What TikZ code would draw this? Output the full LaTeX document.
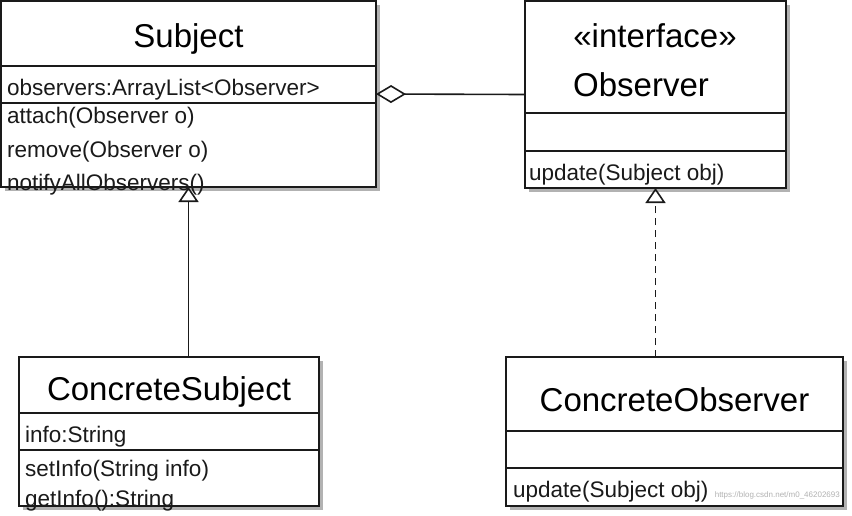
\documentclass[tikz,border=0pt]{standalone}
\usepackage{fontspec}
\setmainfont{Liberation Sans}
\usetikzlibrary{arrows.meta,shadows}
\definecolor{ink}{HTML}{1A1A1A}
\tikzset{
  classbox/.style={draw=ink, line width=1.6pt, fill=white, rectangle, inner sep=0pt, outer sep=0pt,
    drop shadow={shadow xshift=4pt, shadow yshift=-4pt, fill=black!30, opacity=1}},
  divider/.style={draw=ink, line width=1.6pt},
  titletext/.style={text=black, inner sep=0pt, font=\fontsize{33}{36}\selectfont},
  bodytext/.style={text=ink, inner sep=0pt, font=\fontsize{22.5}{25}\selectfont, anchor=base west},
  conn/.style={draw=ink, line width=1.6pt},
  inherit/.style={conn, -{Triangle[open, width=20pt, length=15pt]}},
  realize/.style={conn, dash pattern=on 7pt off 5pt, -{Triangle[open, width=20pt, length=15pt]}},
  aggr/.style={conn, {Diamond[open, width=18pt, length=30pt]}-},
}
\begin{document}
\begin{tikzpicture}[x=1pt, y=-1pt]
\useasboundingbox[fill=white] (0,0) rectangle (852,515);

% class boxes
\node[classbox, minimum width=375pt, minimum height=186pt] (sub) at (188.5,94) {};
\node[classbox, minimum width=261pt, minimum height=187pt] (obs) at (655.5,94.5) {};
\node[classbox, minimum width=300pt, minimum height=149pt] (csub) at (169,431.5) {};
\node[classbox, minimum width=337pt, minimum height=149pt] (cobs) at (674.5,431.5) {};

% dividers
\draw[divider] (sub.west |- 0,66) -- (sub.east |- 0,66);
\draw[divider] (sub.west |- 0,103) -- (sub.east |- 0,103);
\draw[divider] (obs.west |- 0,113) -- (obs.east |- 0,113);
\draw[divider] (obs.west |- 0,151) -- (obs.east |- 0,151);
\draw[divider] (csub.west |- 0,413) -- (csub.east |- 0,413);
\draw[divider] (csub.west |- 0,450) -- (csub.east |- 0,450);
\draw[divider] (cobs.west |- 0,431) -- (cobs.east |- 0,431);
\draw[divider] (cobs.west |- 0,468) -- (cobs.east |- 0,468);

% Subject
\node[titletext, anchor=base] (subT) at (188.5,47) {Subject};
\node[bodytext] (subF) at (7,95) {observers:ArrayList<Observer>};
\node[bodytext] (subM1) at (7,123) {attach(Observer o)};
\node[bodytext] (subM2) at (7,157) {remove(Observer o)};
\node[bodytext] (subM3) at (7,190) {notifyAllObservers()};

% Observer
\node[titletext, anchor=base] (obsS) at (655,47) {«interface»};
\node[titletext, anchor=base west] (obsT) at (573,96) {Observer};
\node[bodytext] (obsM) at (529,180) {update(Subject obj)};

% ConcreteSubject
\node[titletext, anchor=base] (csubT) at (169,400) {ConcreteSubject};
\node[bodytext] (csubF) at (25,442) {info:String};
\node[bodytext] (csubM1) at (25,476) {setInfo(String info)};
\node[bodytext] (csubM2) at (25,506) {getInfo():String};

% ConcreteObserver
\node[titletext, anchor=base] (cobsT) at (674.5,411) {ConcreteObserver};
\node[bodytext] (cobsM) at (513,497) {update(Subject obj)};
\node[anchor=base east, inner sep=0pt, text=black!30, font=\fontsize{8}{9}\selectfont] (wm) at (840,497) {https://blog.csdn.net/m0\_46202693};

% connectors
\draw[inherit] (csub.north -| sub.south) -- (sub.south);
\draw[realize] (cobs.north -| obs.south) -- (obs.south);
\draw[aggr] (sub.east) -- (obs.west);
\end{tikzpicture}
\end{document}
